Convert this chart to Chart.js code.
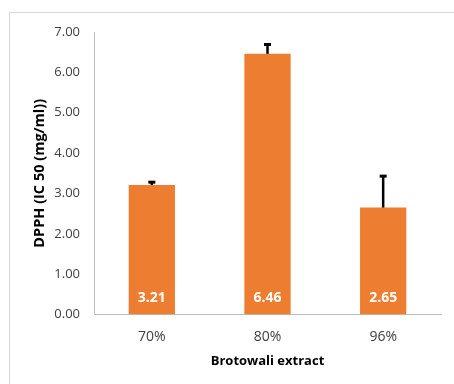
<!DOCTYPE html>
<html lang="en">
<head>
    <meta charset="UTF-8">
    <title>DPPH IC50 - Brotowali extract</title>
    <script src="https://cdn.jsdelivr.net/npm/chart.js"></script>
    <style>
        body {
            margin: 0;
            padding: 0;
            background: #fff;
            overflow: hidden;
        }

        .frame {
            position: absolute;
            left: 9px;
            top: 12px;
            width: 500px;
            height: 500px;
            border: 1px solid #d9d9d9;
        }

        .wrap {
            position: absolute;
            left: 0;
            top: 0;
            width: 454px;
            height: 384px;
        }
    </style>
</head>
<body>
    <div class="frame"></div>
    <div class="wrap">
        <canvas id="chart"></canvas>
    </div>

    <script>
        // dados do gráfico
        const categorias = ["70%", "80%", "96%"];
        const valores = [3.21, 6.46, 2.65];
        const erros = [0.07, 0.23, 0.78];
        const rotulos = ["3.21", "6.46", "2.65"];

        const fonte = "'Open Sans', sans-serif";

        // barras de erro (só para cima)
        const errorBars = {
            id: "errorBars",
            afterDatasetsDraw(chart) {
                const ctx = chart.ctx;
                const meta = chart.getDatasetMeta(0);
                const y = chart.scales.y;
                ctx.save();
                ctx.strokeStyle = "#000";
                meta.data.forEach((bar, i) => {
                    const topo = y.getPixelForValue(valores[i]);
                    const fim = y.getPixelForValue(valores[i] + erros[i]);
                    ctx.lineWidth = 2.5;
                    ctx.beginPath();
                    ctx.moveTo(bar.x, topo);
                    ctx.lineTo(bar.x, fim);
                    ctx.stroke();
                    ctx.lineWidth = 3;
                    ctx.beginPath();
                    ctx.moveTo(bar.x - 3.5, fim);
                    ctx.lineTo(bar.x + 3.5, fim);
                    ctx.stroke();
                });
                ctx.restore();
            }
        };

        // rótulos brancos dentro das barras
        const barLabels = {
            id: "barLabels",
            afterDatasetsDraw(chart) {
                const ctx = chart.ctx;
                const meta = chart.getDatasetMeta(0);
                const base = chart.scales.y.getPixelForValue(0);
                ctx.save();
                ctx.fillStyle = "#fff";
                ctx.font = "bold 14px " + fonte;
                ctx.textAlign = "center";
                ctx.textBaseline = "middle";
                meta.data.forEach((bar, i) => {
                    ctx.fillText(rotulos[i], bar.x, base - 17);
                });
                ctx.restore();
            }
        };

        const ctx = document.getElementById("chart").getContext("2d");
        const chart = new Chart(ctx, {
            type: "bar",
            data: {
                labels: categorias,
                datasets: [
                    {
                        label: "DPPH",
                        data: valores,
                        backgroundColor: "#ED7D31",
                        barPercentage: 0.4,
                        categoryPercentage: 1,
                    },
                ],
            },
            options: {
                responsive: true,
                maintainAspectRatio: false,
                animation: false,
                layout: {
                    padding: { top: 32, right: 13, bottom: 15, left: 0 },
                },
                plugins: {
                    legend: { display: false },
                    tooltip: { enabled: false },
                },
                scales: {
                    x: {
                        grid: {
                            display: false,
                            drawTicks: false,
                        },
                        border: { color: "#bfbfbf", width: 1 },
                        ticks: {
                            color: "#404040",
                            font: { family: fonte, size: 14 },
                            padding: 14,
                        },
                        title: {
                            display: true,
                            text: "Brotowali extract",
                            color: "#000",
                            font: { family: fonte, size: 13, weight: "bold" },
                            padding: { top: -6, bottom: 0 },
                        },
                    },
                    y: {
                        min: 0,
                        max: 7,
                        afterFit: (scale) => {
                            scale.width = 94;
                        },
                        grid: {
                            display: false,
                            drawTicks: true,
                            tickLength: 6,
                            tickColor: "#bfbfbf",
                        },
                        border: { color: "#bfbfbf", width: 1 },
                        ticks: {
                            stepSize: 1,
                            color: "#404040",
                            font: { family: fonte, size: 13 },
                            padding: 8,
                            callback: (v) => v.toFixed(2),
                        },
                        title: {
                            display: true,
                            text: "DPPH (IC 50 (mg/ml))",
                            color: "#000",
                            font: { family: fonte, size: 14.5, weight: "bold" },
                            padding: { top: 31, bottom: 0 },
                        },
                    },
                },
            },
            plugins: [errorBars, barLabels],
        });
    </script>
</body>
</html>
